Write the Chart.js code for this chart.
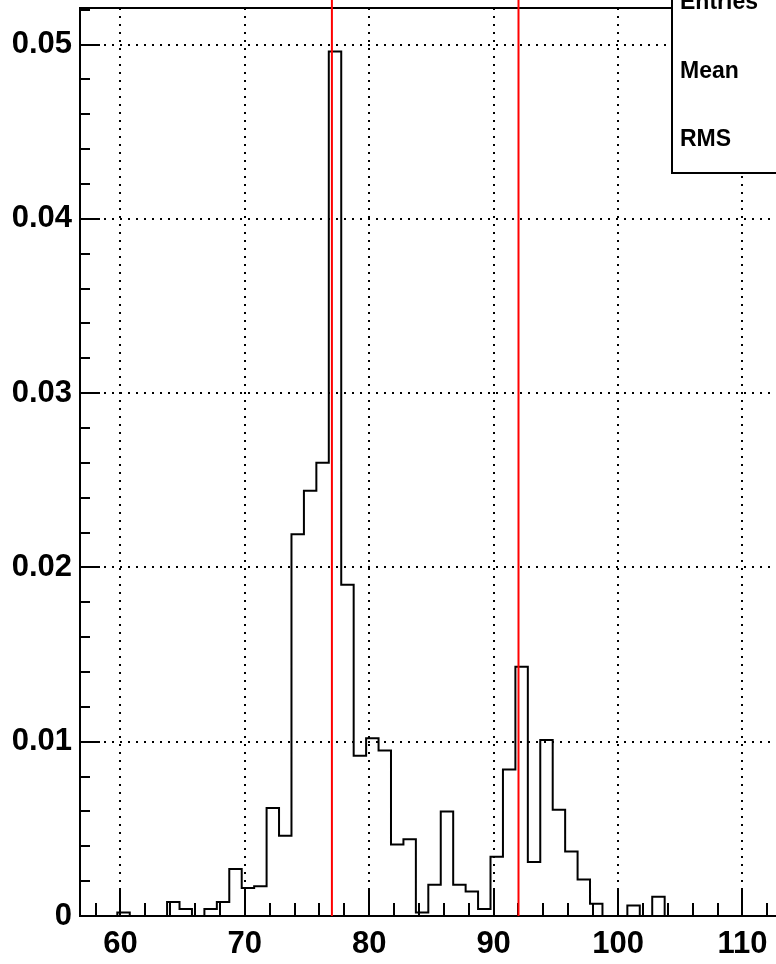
<!DOCTYPE html>
<html>
<head>
<meta charset="utf-8">
<script src="https://cdn.jsdelivr.net/npm/chart.js@4.4.0/dist/chart.umd.min.js"></script>
<style>
    html, body { margin: 0; padding: 0; background: #fff; }
    #wrap { position: relative; width: 776px; height: 964px; }
</style>
</head>
<body>
<div id="wrap"><canvas id="hist" width="776" height="964"></canvas></div>
<script>
// 
// Histogram content, one unit wide bins starting at 56.75
// 
var binStart = 56.75;
var binWidth = 1;
var binValues = [
    0, 0, 0, 0.0002, 0, 0, 0,
    0.0008, 0.0004, 0, 0.0004, 0.0008, 0.0027, 0.0016, 0.0017, 0.0062, 0.0046,
    0.0219, 0.0244, 0.0260, 0.0496, 0.0190, 0.0092, 0.0102, 0.0095, 0.0041, 0.0044,
    0.0002, 0.0018, 0.0060, 0.0018, 0.0014, 0.0004, 0.0034, 0.0084, 0.0143, 0.0031,
    0.0101, 0.0061, 0.0037, 0.0021, 0.0007, 0, 0, 0.0006, 0, 0.0011,
    0, 0, 0, 0, 0, 0, 0, 0, 0, 0
];

// vertical markers
var markerLines = [77, 92];

// axes
var xRange = [56.75, 112.7];
var yRange = [0, 0.0521];
var xTicks = [60, 70, 80, 90, 100, 110];
var yTicks = [0, 0.01, 0.02, 0.03, 0.04, 0.05];
var xMinorStep = 2;
var yMinorStep = 0.002;

// stats box
var statLabels = ['Entries', 'Mean', 'RMS'];

var fontFamily = '"Liberation Sans", Arial, Helvetica, sans-serif';

// 
// Build step points at bin edges (value holds until the next edge).
// 
function histPoints() {
    var pts = [];
    for (var i = 0; i < binValues.length; ++i) {
        pts.push({x: binStart + i * binWidth, y: binValues[i]});
    }
    pts.push({x: binStart + binValues.length * binWidth, y: 0});
    return pts;
}

function markerDataset(x) {
    return {
        data: [{x: x, y: 0}, {x: x, y: 0.0527}],
        borderColor: '#ff0000',
        borderWidth: 2,
        pointRadius: 0,
        fill: false,
        clip: false
    };
}

// 
// ROOT style frame, inward ticks and the stats box.
// 
var rootFrame = {
    id: 'rootFrame',
    beforeDatasetsDraw: function (chart) {
        var ctx = chart.ctx, area = chart.chartArea;
        var xs = chart.scales.x, ys = chart.scales.y;
        var i, v, p, len;

        ctx.save();
        ctx.strokeStyle = '#000';
        ctx.lineWidth = 2;
        ctx.beginPath();

        for (i = 0; i * yMinorStep <= yRange[1] + 1e-9; ++i) {
            v = i * yMinorStep;
            p = Math.round(ys.getPixelForValue(v));
            len = (i % 5 === 0) ? 20 : 10;
            ctx.moveTo(area.left, p);
            ctx.lineTo(area.left + len, p);
        }

        for (v = 58; v <= xRange[1]; v += xMinorStep) {
            p = Math.round(xs.getPixelForValue(v));
            len = (v % 10 === 0) ? 26 : 13;
            ctx.moveTo(p, area.bottom);
            ctx.lineTo(p, area.bottom - len);
        }

        // left, top and bottom of the frame; right edge sits off canvas
        ctx.moveTo(area.left, area.top);
        ctx.lineTo(area.right + 2, area.top);
        ctx.moveTo(area.left, area.top - 1);
        ctx.lineTo(area.left, area.bottom + 1);
        ctx.moveTo(area.left, area.bottom);
        ctx.lineTo(area.right + 2, area.bottom);
        ctx.stroke();
        ctx.restore();
    },
    afterDraw: function (chart) {
        var ctx = chart.ctx;

        ctx.save();
        ctx.fillStyle = '#fff';
        ctx.strokeStyle = '#000';
        ctx.lineWidth = 2;
        ctx.fillRect(672, -4, 110, 177);
        ctx.strokeRect(672, -4, 110, 177);

        ctx.fillStyle = '#000';
        ctx.font = 'bold 23px ' + fontFamily;
        ctx.textBaseline = 'middle';
        ctx.textAlign = 'left';
        for (var i = 0; i < statLabels.length; ++i) {
            ctx.fillText(statLabels[i], 680, 3 + i * 68.5);
        }
        ctx.restore();
    }
};

var tickFont = {family: fontFamily, size: 31, weight: 'bold'};

var datasets = markerLines.map(markerDataset);
datasets.push({
    data: histPoints(),
    stepped: 'before',
    borderColor: '#000',
    borderWidth: 2,
    pointRadius: 0,
    fill: false
});

new Chart(document.getElementById('hist'), {
    type: 'line',
    data: {datasets: datasets},
    options: {
        responsive: false,
        animation: false,
        devicePixelRatio: 1,
        layout: {padding: {top: 8, right: 0, left: 0, bottom: 0}},
        plugins: {legend: {display: false}, tooltip: {enabled: false}},
        scales: {
            x: {
                type: 'linear',
                min: xRange[0],
                max: xRange[1],
                afterBuildTicks: function (scale) {
                    scale.ticks = xTicks.map(function (v) { return {value: v}; });
                },
                afterFit: function (scale) {
                    scale.height = 48;
                    scale.paddingLeft = 0;
                    scale.paddingRight = 0;
                },
                grid: {color: '#000', lineWidth: 2, drawTicks: false},
                border: {display: false, dash: [2, 6]},
                ticks: {
                    font: tickFont,
                    color: '#000',
                    padding: 10,
                    autoSkip: false,
                    maxRotation: 0,
                    callback: function (v) { return String(v); }
                }
            },
            y: {
                type: 'linear',
                min: yRange[0],
                max: yRange[1],
                afterBuildTicks: function (scale) {
                    scale.ticks = yTicks.map(function (v) { return {value: v}; });
                },
                afterFit: function (scale) {
                    scale.width = 80;
                    scale.paddingTop = 0;
                    scale.paddingBottom = 0;
                },
                grid: {color: '#000', lineWidth: 2, drawTicks: false},
                border: {display: false, dash: [2, 6]},
                ticks: {
                    font: tickFont,
                    color: '#000',
                    padding: 8,
                    autoSkip: false,
                    callback: function (v) { return v === 0 ? '0' : v.toFixed(2); }
                }
            }
        }
    },
    plugins: [rootFrame]
});
</script>
</body>
</html>
